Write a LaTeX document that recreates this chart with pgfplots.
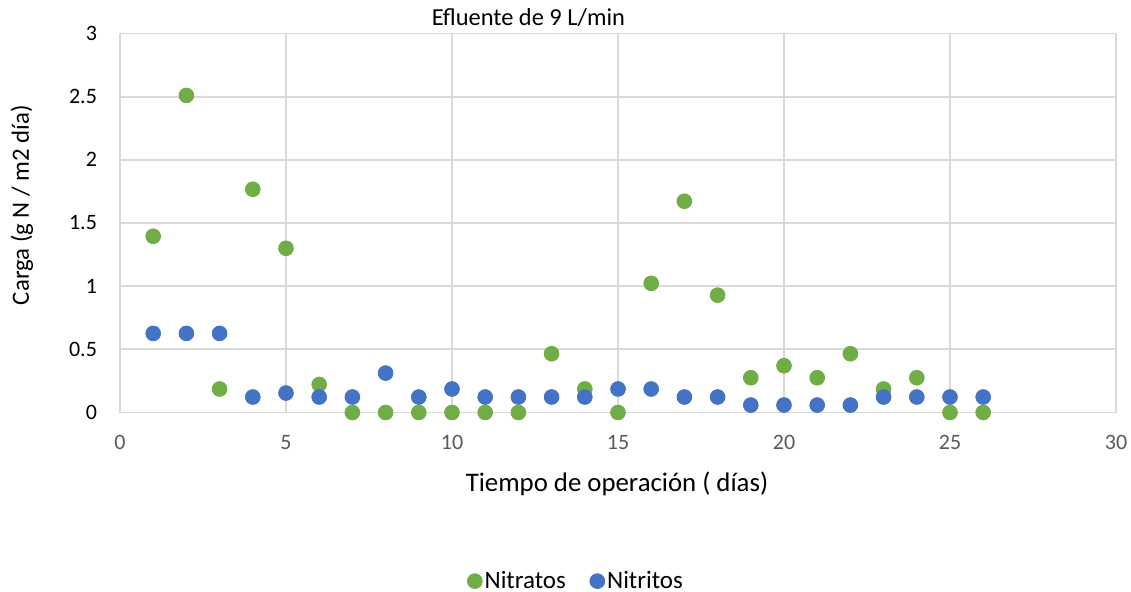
\documentclass[border=0pt]{standalone}
\usepackage{pgfplots}
\pgfplotsset{compat=1.18}
\usepackage{fontspec}
\setmainfont{Carlito}
\definecolor{verde}{HTML}{70AD47}
\definecolor{azul}{HTML}{4472C4}
\definecolor{rejilla}{HTML}{D9D9D9}
\definecolor{gristick}{HTML}{595959}
\begin{document}
\begin{tikzpicture}[x=1pt,y=1pt]
\useasboundingbox (-60,-89.75) rectangle (505.5,206.25);
\begin{axis}[
    at={(0,0)}, anchor=south west,
    scale only axis,
    width=498pt, height=189.5pt,
    xmin=0, xmax=30, ymin=0, ymax=3,
    xtick={0,5,...,30},
    ytick={0,0.5,...,3},
    grid=major,
    major grid style={rejilla, line width=0.9pt},
    axis line style={rejilla, line width=0.9pt},
    tick style={draw=none},
    /pgf/number format/assume math mode=true,
    ticklabel style={font=\fontsize{11}{13}\selectfont},
    xticklabel style={gristick, yshift=-8pt},
    yticklabel style={black, xshift=-8pt},
    legend style={draw=none, at={(0.459,-0.445)}, anchor=center,
        font=\fontsize{12.5}{14}\selectfont, legend columns=2,
        /tikz/every even column/.append style={column sep=10pt},
        /tikz/every odd column/.append style={column sep=-0.8pt}},
]
\addplot[only marks, mark=*, mark size=3.7pt, color=verde] coordinates {
(1,1.395) (2,2.51) (3,0.186) (4,1.767) (5,1.30) (6,0.222) (7,0) (8,0) (9,0) (10,0)
(11,0) (12,0) (13,0.465) (14,0.186) (15,0) (16,1.022) (17,1.672) (18,0.929) (19,0.275) (20,0.37)
(21,0.275) (22,0.465) (23,0.186) (24,0.275) (25,0) (26,0)
};
\addlegendentry{Nitratos}
\addplot[only marks, mark=*, mark size=3.7pt, color=azul] coordinates {
(1,0.626) (2,0.626) (3,0.626) (4,0.1225) (5,0.154) (6,0.1225) (7,0.1225) (8,0.312) (9,0.1225) (10,0.186)
(11,0.1225) (12,0.1225) (13,0.1225) (14,0.1225) (15,0.186) (16,0.186) (17,0.1225) (18,0.1225) (19,0.059) (20,0.059)
(21,0.059) (22,0.059) (23,0.1225) (24,0.1225) (25,0.1225) (26,0.1225)
};
\addlegendentry{Nitritos}
\end{axis}
\node[font=\fontsize{12.2}{14}\selectfont] at (204.2,197.3) {Efluente de 9 L/min};
\node[font=\fontsize{13.4}{15}\selectfont] at (248.5,-35.8) {Tiempo de operación ( días)};
\node[font=\fontsize{12.4}{14}\selectfont, rotate=90] at (-49,103.7) {Carga (g N / m2 día)};
\end{tikzpicture}
\end{document}
